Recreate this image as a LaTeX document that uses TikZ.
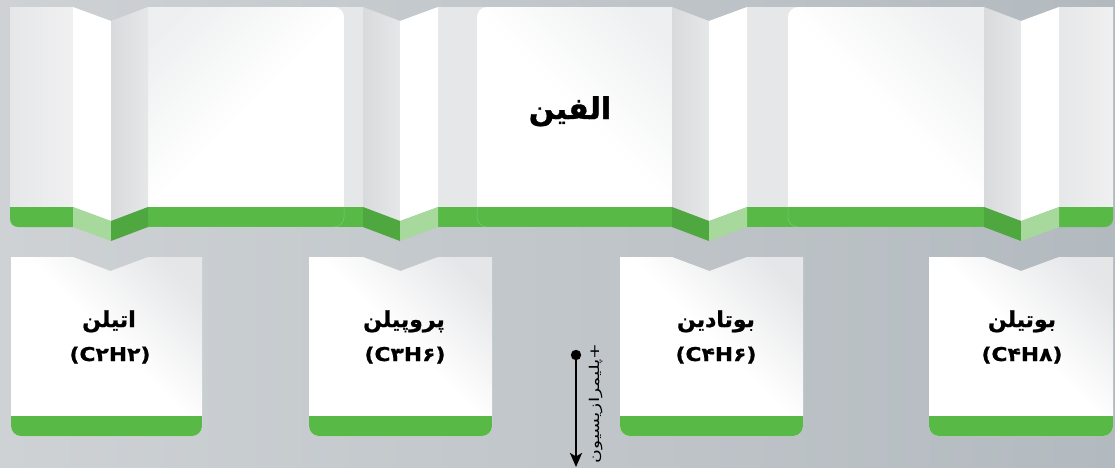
\documentclass[tikz,border=0pt]{standalone}
\usepackage{fontspec}
\TeXXeTstate=1
\newfontfamily\fatitle[Script=Arabic, FakeBold=1.2]{DejaVu Sans Bold}
\newfontfamily\faname[Script=Arabic, FakeBold=1.0]{DejaVu Sans Bold}
\newfontfamily\faform[Script=Arabic, FakeStretch=1.15, FakeBold=0.8]{DejaVu Sans Bold}
\newfontfamily\fapoly[Script=Arabic, FakeStretch=1.4]{DejaVu Sans}
\usetikzlibrary{arrows.meta}
\definecolor{bgL}{HTML}{CED2D5}
\definecolor{bgR}{HTML}{B3BABF}
\definecolor{gmain}{HTML}{58B947}
\definecolor{gdark}{HTML}{4FA73F}
\definecolor{glight}{HTML}{A6D99B}
\definecolor{gline}{HTML}{7CC96D}
\definecolor{pgrey}{HTML}{E6E7E8}
\definecolor{pgreyL}{HTML}{F0F0F1}
\definecolor{fgrey}{HTML}{D8DADC}
\definecolor{cardg}{HTML}{EEEFF0}
\definecolor{boxg}{HTML}{E5E6E8}
\newcommand\lowbox[5]{%
  \begin{scope}
    \clip (#1,257) -- (#3,257) -- (#4,271) -- (#5,257) -- (#2,257) -- (#2,440) -- (#1,440) -- cycle;
    \path[boxshade, rounded corners=10] (#1,240) rectangle (#2,436);
    \clip (#1,416) rectangle (#2,437);
    \fill[gmain, rounded corners=10] (#1,390) rectangle (#2,436);
  \end{scope}}
\begin{document}
\begin{tikzpicture}[x=1pt,y=-1pt,
  flatpanel/.style={left color=pgrey, right color=pgreyL},
  folddark/.style={left color=fgrey, right color=pgrey},
  cardTR/.style={top color=cardg, bottom color=white, middle color=white, shading angle=-45},
  cardTL/.style={top color=cardg, bottom color=white, middle color=white, shading angle=45},
  boxshade/.style={top color=boxg, bottom color=white, middle color=white, shading angle=-45},
  cardrim/.style={draw=gline, line width=0.5pt},
  namefont/.style={font=\faname\fontsize{22}{24}\selectfont, text=black, inner sep=0pt},
  formfont/.style={font=\faform\fontsize{19}{21}\selectfont, text=black, inner sep=0pt},
  titlefont/.style={font=\fatitle\fontsize{30}{34}\selectfont, text=black, inner sep=0pt},
  polyfont/.style={font=\fapoly\fontsize{13.5}{15}\selectfont, text=black, inner sep=0pt},
]
\useasboundingbox (0,0) rectangle (1115,467);
\shade[left color=bgL, right color=bgR] (0,0) rectangle (1115,467);

% flat panels (back)
\path[flatpanel] (10,7) rectangle (73,207);
\path[fill=pgrey] (148,7) rectangle (363,207);
\path[fill=pgrey] (438,7) rectangle (672,207);
\path[fill=pgrey] (747,7) rectangle (984,207);
\path[flatpanel] (1059,7) rectangle (1113,207);

% white cards
\begin{scope}\clip (148,0) rectangle (344,207);
  \path[cardTL, rounded corners=10] (120,7) rectangle (344,240);
\end{scope}
\begin{scope}\clip (477,0) rectangle (672,207);
  \path[cardTR, rounded corners=10] (477,7) rectangle (700,240);
\end{scope}
\begin{scope}\clip (788,0) rectangle (984,207);
  \path[cardTR, rounded corners=10] (788,7) rectangle (1010,240);
\end{scope}

% folds
\fill[white] (73,7) -- (111,21) -- (111,221) -- (73,207) -- cycle;
\path[folddark] (111,21) -- (148,7) -- (148,207) -- (111,221) -- cycle;
\path[folddark] (363,7) -- (400,21) -- (400,221) -- (363,207) -- cycle;
\fill[white] (400,21) -- (438,7) -- (438,207) -- (400,221) -- cycle;
\path[folddark] (672,7) -- (709,21) -- (709,221) -- (672,207) -- cycle;
\fill[white] (709,21) -- (747,7) -- (747,207) -- (709,221) -- cycle;
\path[folddark] (984,7) -- (1021,21) -- (1021,221) -- (984,207) -- cycle;
\fill[white] (1021,21) -- (1059,7) -- (1059,207) -- (1021,221) -- cycle;

% green strips (flat)
\begin{scope}\clip (10,207) rectangle (73,228);
  \fill[gmain, rounded corners=8] (10,190) rectangle (90,227);
\end{scope}
\fill[gmain] (148,207) rectangle (363,227);
\fill[gmain] (438,207) rectangle (672,227);
\fill[gmain] (747,207) rectangle (984,227);
\begin{scope}\clip (1059,207) rectangle (1113,228);
  \fill[gmain, rounded corners=8] (1040,190) rectangle (1113,227);
\end{scope}
% card rims in the green strip
\begin{scope}\clip (148,207) rectangle (363,226.5);
  \draw[cardrim, rounded corners=10] (120,190) rectangle (344,227);
\end{scope}
\begin{scope}\clip (438,207) rectangle (672,226.5);
  \draw[cardrim, rounded corners=10] (477,190) rectangle (700,227);
\end{scope}
\begin{scope}\clip (747,207) rectangle (984,226.5);
  \draw[cardrim, rounded corners=10] (788,190) rectangle (1010,227);
\end{scope}

% green strips (folds)
\fill[glight] (73,207) -- (111,221) -- (111,241) -- (73,227) -- cycle;
\fill[gdark] (111,221) -- (148,207) -- (148,227) -- (111,241) -- cycle;
\fill[gdark] (363,207) -- (400,221) -- (400,241) -- (363,227) -- cycle;
\fill[glight] (400,221) -- (438,207) -- (438,227) -- (400,241) -- cycle;
\fill[gdark] (672,207) -- (709,221) -- (709,241) -- (672,227) -- cycle;
\fill[glight] (709,221) -- (747,207) -- (747,227) -- (709,241) -- cycle;
\fill[gdark] (984,207) -- (1021,221) -- (1021,241) -- (984,227) -- cycle;
\fill[glight] (1021,221) -- (1059,207) -- (1059,227) -- (1021,241) -- cycle;

\node[titlefont, anchor=base] (alkene) at (570,119) {\beginR الفین\endR};

% lower boxes
\lowbox{11}{202}{73}{110.5}{148}
\lowbox{309}{492}{363}{400.5}{438}
\lowbox{620}{803}{672}{709.5}{747}
\lowbox{929}{1113}{984}{1021}{1059}

\node[namefont, anchor=base] (n1) at (109,327) {\beginR اتیلن\endR};
\node[formfont, anchor=base] (f1) at (110,361) {(C۲H۲)};
\node[namefont, anchor=base] (n2) at (404,327) {\beginR پروپیلن\endR};
\node[formfont, anchor=base] (f2) at (405,361) {(C۳H۶)};
\node[namefont, anchor=base] (n3) at (716,327) {\beginR بوتادین\endR};
\node[formfont, anchor=base] (f3) at (716,361) {(C۴H۶)};
\node[namefont, anchor=base] (n4) at (1022,327) {\beginR بوتیلن\endR};
\node[formfont, anchor=base] (f4) at (1022,361) {(C۴H۸)};

% polymerization arrow
\coordinate (ps) at (576,355);
\coordinate (pe) at (576,467);
\fill[black] (ps) circle (5.2);
\draw[line width=2.6pt, -{Stealth[length=14pt, width=12pt, inset=3.5pt]}] (ps) -- (pe);
\node[polyfont, rotate=90, anchor=east] (poly) at (596,343) {\beginR پلیمرازیسیون\endR+};
\end{tikzpicture}
\end{document}
